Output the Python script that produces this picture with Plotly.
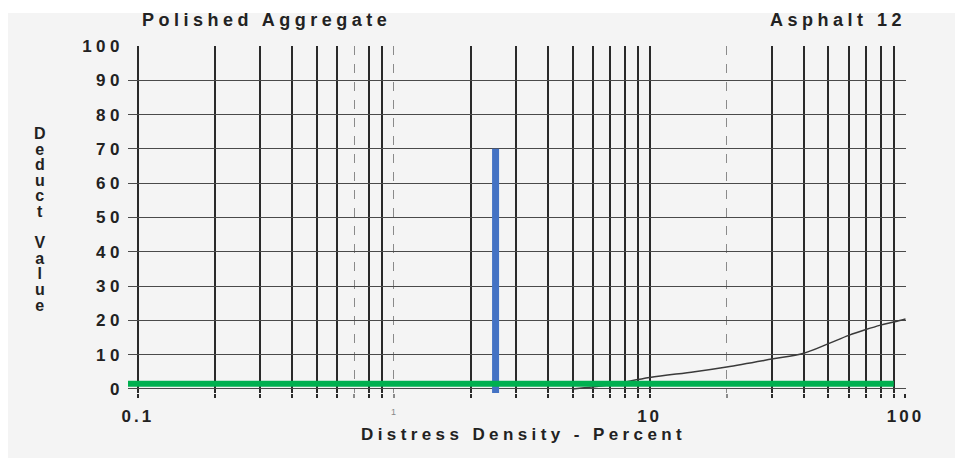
import math
import plotly.graph_objects as go

# Deduct-value curve for polished aggregate (asphalt, chart 12)
curve_x = [5, 7, 10, 15, 20, 30, 40, 50, 60, 70, 80, 90, 100]
curve_y = [0, 1.2, 3.3, 5.0, 6.4, 8.7, 10.4, 13.2, 15.6, 17.3, 18.6, 19.5, 20.4]

# Reading overlays: density marker and deduct baseline
marker_x = [2.5, 2.5]
marker_y = [-1.2, 70]
baseline_x = [0.0915, 90]
baseline_y = [1.5, 1.5]

# Axis ticks
x_solid_grid = [0.1, 0.2, 0.3, 0.4, 0.5, 0.6, 0.8, 0.9,
                2, 3, 4, 5, 6, 7, 8, 9, 10,
                30, 40, 50, 60, 70, 80, 90, 100]
x_dashed_grid = [0.7, 1, 20]
x_labels = {0.1: "0.1", 10: "10", 100: "100"}
y_ticks = [0, 10, 20, 30, 40, 50, 60, 70, 80, 90, 100]

FONT = "Liberation Sans, Arial, sans-serif"
INK = "#222222"


def spaced(text, px):
    return f'<span style="letter-spacing:{px}px">{text}</span>'


fig = go.Figure()
fig.add_trace(go.Scatter(x=curve_x, y=curve_y, mode="lines",
                         line=dict(color="#3a3a3a", width=1.5, shape="spline"),
                         hoverinfo="skip", showlegend=False))
fig.add_trace(go.Scatter(x=marker_x, y=marker_y, mode="lines",
                         line=dict(color="#4472C4", width=7),
                         hoverinfo="skip", showlegend=False))
fig.add_trace(go.Scatter(x=baseline_x, y=baseline_y, mode="lines",
                         line=dict(color="#00B050", width=6),
                         hoverinfo="skip", showlegend=False))

fig.update_xaxes(
    type="log",
    range=[math.log10(0.0915), 2.002],
    tickmode="array",
    tickvals=x_solid_grid,
    ticktext=[spaced(x_labels[v], 3) if v in x_labels else "" for v in x_solid_grid],
    ticks="outside", ticklen=4, tickwidth=1.6, tickcolor="#2a2a2a",
    showgrid=True, gridcolor="#2a2a2a", gridwidth=1.6,
    minor=dict(tickmode="array", tickvals=x_dashed_grid, showgrid=True,
               gridcolor="#8a8a8a", gridwidth=1.4, griddash="dash",
               ticks="outside", ticklen=4, tickcolor="#8a8a8a"),
    zeroline=False, showline=False,
    tickfont=dict(family=FONT, size=17, color=INK, weight="bold"),
    ticklabelstandoff=4,
)
fig.update_yaxes(
    range=[-1.2, 100],
    tickmode="array",
    tickvals=y_ticks,
    ticktext=[spaced(str(v), 4.5) for v in y_ticks],
    showgrid=True, gridcolor="#4a4a4a", gridwidth=1.2,
    zeroline=False, showline=False, ticks="",
    tickfont=dict(family=FONT, size=17, color=INK, weight="bold"),
    ticklabelstandoff=3,
)

# Vertical y-axis title: one letter per row, blank row between the words
y_title = "<br>".join("" if ch == " " else ch for ch in "Deduct Value")

annotations = [
    dict(text=spaced("Polished Aggregate", 4.5), xref="paper", yref="paper",
         x=(140 - 128) / 778, y=(393 - 20) / 347, xanchor="left", yanchor="middle",
         showarrow=False, font=dict(family=FONT, size=18, color=INK, weight="bold")),
    dict(text=spaced("Asphalt 12", 4.5), xref="paper", yref="paper",
         x=(908 - 128) / 778, y=(393 - 20) / 347, xanchor="right", yanchor="middle",
         showarrow=False, font=dict(family=FONT, size=18, color=INK, weight="bold")),
    dict(text=spaced("Distress Density - Percent", 4.4), xref="paper", yref="paper",
         x=(523 - 128) / 778, y=(393 - 434) / 347, xanchor="center", yanchor="middle",
         showarrow=False, font=dict(family=FONT, size=17, color=INK, weight="bold")),
    dict(text="1", xref="x", yref="paper", x=0, y=(393 - 412) / 347,
         xanchor="center", yanchor="middle", showarrow=False,
         font=dict(family=FONT, size=9, color="#888888")),
    dict(text=f'<span style="font-size:16px">{y_title}</span>',
         xref="paper", yref="paper",
         x=(40 - 128) / 778, y=(393 - 219) / 347,
         xanchor="center", yanchor="middle", showarrow=False,
         font=dict(family=FONT, size=12, color=INK, weight="bold")),
]

fig.update_layout(
    width=963, height=458,
    margin=dict(l=128, r=57, t=46, b=65),
    paper_bgcolor="white",
    plot_bgcolor="#f4f4f4",
    annotations=annotations,
    shapes=[dict(type="rect", xref="paper", yref="paper", layer="below",
                 x0=(8 - 128) / 778, x1=(955 - 128) / 778,
                 y0=(393 - 458) / 347, y1=(393 - 13) / 347,
                 fillcolor="#f4f4f4", line=dict(width=0))],
    showlegend=False,
)

fig.write_html("out.html")
